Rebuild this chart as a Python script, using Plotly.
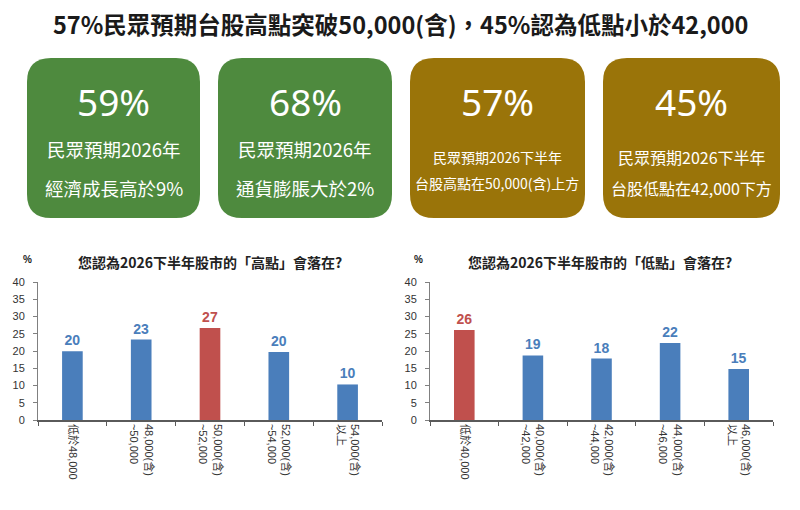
import plotly.graph_objects as go

title_text = "57%民眾預期台股高點突破50,000(含)，45%認為低點小於42,000"

box_big = ["59%", "68%", "57%", "45%"]
box_line1 = ["民眾預期2026年", "民眾預期2026年", "民眾預期2026下半年", "民眾預期2026下半年"]
box_line2 = ["經濟成長高於9%", "通貨膨脹大於2%", "台股高點在50,000(含)上方", "台股低點在42,000下方"]
box_colors = ["#4E8A3E", "#4E8A3E", "#9A7409", "#9A7409"]

high_title = "您認為2026下半年股市的「高點」會落在?"
high_cats = ["低於48,000", "48,000(含)<br>~50,000", "50,000(含)<br>~52,000", "52,000(含)<br>~54,000", "54,000(含)<br>以上"]
high_vals = [19.9, 23.3, 26.7, 19.7, 10.3]
high_labels = ["20", "23", "27", "20", "10"]

low_title = "您認為2026下半年股市的「低點」會落在?"
low_cats = ["低於40,000", "40,000(含)<br>~42,000", "42,000(含)<br>~44,000", "44,000(含)<br>~46,000", "46,000(含)<br>以上"]
low_vals = [26.1, 18.7, 17.8, 22.3, 14.8]
low_labels = ["26", "19", "18", "22", "15"]

BLUE = "#4A7EBB"
RED = "#C0504D"
high_colors = [BLUE, BLUE, RED, BLUE, BLUE]
low_colors = [RED, BLUE, BLUE, BLUE, BLUE]

W, H = 800, 510
FONT = "Noto Sans CJK TC, Noto Sans, sans-serif"

fig = go.Figure()
fig.add_trace(go.Bar(x=high_cats, y=high_vals, marker=dict(color=high_colors, line=dict(width=0)),
                     width=0.3, text=high_labels, texttemplate="<b>%{text}</b>",
                     textposition="outside", cliponaxis=False,
                     textfont=dict(color=high_colors, size=14, family="Liberation Sans, Arial"),
                     xaxis="x", yaxis="y", hoverinfo="skip"))
fig.add_trace(go.Bar(x=low_cats, y=low_vals, marker=dict(color=low_colors, line=dict(width=0)),
                     width=0.3, text=low_labels, texttemplate="<b>%{text}</b>",
                     textposition="outside", cliponaxis=False,
                     textfont=dict(color=low_colors, size=14, family="Liberation Sans, Arial"),
                     xaxis="x2", yaxis="y2", hoverinfo="skip"))

def px(x):
    return x / W

def py(y):
    return 1 - y / H

ydom = [py(420), py(282)]
axis_common = dict(showline=True, ticks="outside", ticklen=4, showgrid=False, zeroline=False,
                   automargin=False, fixedrange=True,
                   tickfont=dict(size=11, color="#333333", family="Liberation Sans, Arial, " + FONT))
xaxis_style = dict(linecolor="#5A5A5A", linewidth=1.5, tickcolor="#5A5A5A", tickangle=90,
                   tickson="boundaries", **axis_common)
yaxis_style = dict(linecolor="#808080", linewidth=1, tickcolor="#808080", range=[0, 40], dtick=5,
                   ticklabelstandoff=6, **axis_common)
fig.update_layout(
    width=W, height=H, margin=dict(l=0, r=0, t=0, b=0, autoexpand=False),
    paper_bgcolor="white", plot_bgcolor="white", showlegend=False,
    font=dict(family=FONT),
    xaxis=dict(domain=[px(38), px(382)], anchor="y", **xaxis_style),
    yaxis=dict(domain=ydom, anchor="x", **yaxis_style),
    xaxis2=dict(domain=[px(430), px(773)], anchor="y2", **xaxis_style),
    yaxis2=dict(domain=ydom, anchor="x2", **yaxis_style),
)

def note(x, y, text, size, color, family=FONT):
    fig.add_annotation(x=px(x), y=py(y), xref="paper", yref="paper", text=text,
                       xanchor="center", yanchor="middle", showarrow=False,
                       font=dict(size=size, color=color, family=family))

# Title
note(400, 24, "<b>" + title_text + "</b>", 23.5, "#1a1a1a")

# Rounded boxes
boxes = [(27, 200), (218, 392), (410, 585), (603, 780)]
top, bot, r = 58, 218, 24
line_y = [(149, 188), (149, 188), (157, 183), (157, 188)]
line_fs = [18.5, 18.5, 14, 16]
for i, (x0, x1) in enumerate(boxes):
    path = (f"M {px(x0+r)},{py(top)} L {px(x1-r)},{py(top)} Q {px(x1)},{py(top)} {px(x1)},{py(top+r)} "
            f"L {px(x1)},{py(bot-r)} Q {px(x1)},{py(bot)} {px(x1-r)},{py(bot)} "
            f"L {px(x0+r)},{py(bot)} Q {px(x0)},{py(bot)} {px(x0)},{py(bot-r)} "
            f"L {px(x0)},{py(top+r)} Q {px(x0)},{py(top)} {px(x0+r)},{py(top)} Z")
    fig.add_shape(type="path", path=path, xref="paper", yref="paper",
                  fillcolor=box_colors[i], line=dict(width=0), layer="below")
    cx = (x0 + x1) / 2
    note(cx, 102, box_big[i], 37, "white", "Noto Sans, " + FONT)
    note(cx, line_y[i][0], box_line1[i], line_fs[i], "white")
    note(cx, line_y[i][1], box_line2[i], line_fs[i], "white")

# Chart titles and % labels
for cx, t, pctx in [(210, high_title, 27), (600, low_title, 418)]:
    note(cx, 262, "<b>" + t + "</b>", 14, "#222222")
    note(pctx, 259, "<b>%</b>", 10, "#222222", "Liberation Sans, Arial")

fig.write_html("out.html")
